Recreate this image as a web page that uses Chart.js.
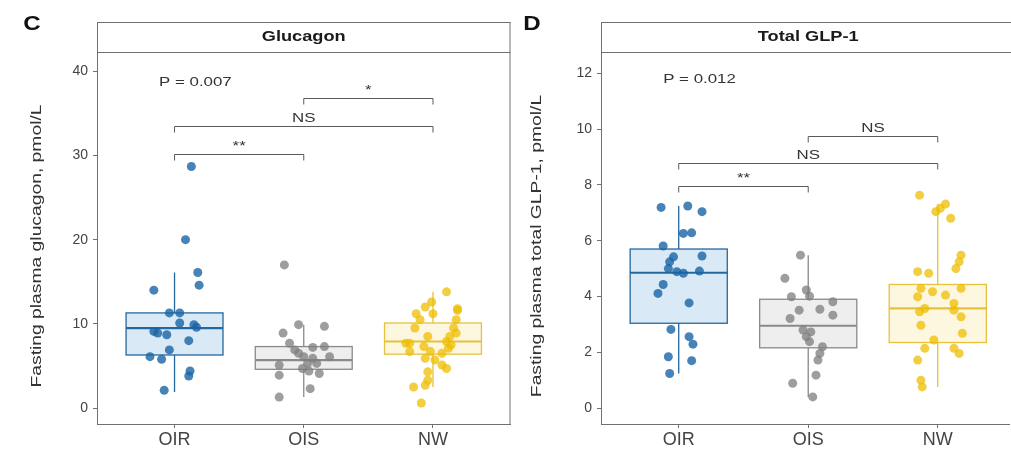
<!DOCTYPE html>
<html>
<head>
<meta charset="utf-8">
<script src="https://cdn.jsdelivr.net/npm/chart.js@4/dist/chart.umd.min.js"></script>
<style>
  html, body { margin: 0; padding: 0; background: #fff; overflow: hidden; }
  #wrap { position: relative; width: 1011px; height: 450px; overflow: hidden; }
  .panel { position: absolute; top: 0; height: 450px; }
  #p1 { left: 0; width: 515px; }
  #p2 { left: 512px; width: 502px; }
</style>
</head>
<body>
<div id="wrap">
  <div class="panel" id="p1"><canvas id="glucagonChart"></canvas></div>
  <div class="panel" id="p2"><canvas id="glp1Chart"></canvas></div>
</div>
<script>
const groups = ['OIR', 'OIS', 'NW'];

// panel C - glucagon, pmol/L (jitter = horizontal offset)
const glucagonOIR = [28.7, 20.0, 16.1, 14.6, 14.0, 11.3, 11.3, 10.1, 9.9, 9.6, 9.1, 8.9, 8.7, 8.0, 6.9, 6.1, 5.8, 4.4, 3.8, 2.1];
const glucagonOIRJitter = [0.13, 0.085, 0.18, 0.19, -0.16, -0.04, 0.04, 0.04, 0.15, 0.17, -0.16, -0.13, -0.06, 0.11, -0.04, -0.19, -0.10, 0.12, 0.11, -0.08];
const glucagonOIS = [17.0, 9.9, 9.7, 8.9, 7.7, 7.2, 7.3, 6.9, 6.5, 6.1, 6.1, 5.9, 5.3, 5.1, 5.3, 4.7, 4.4, 4.1, 3.9, 2.3, 1.3];
const glucagonOISJitter = [-0.15, -0.04, 0.16, -0.16, -0.11, 0.07, 0.16, -0.07, -0.04, 0.0, 0.2, 0.07, 0.1, -0.19, 0.03, -0.01, 0.04, 0.12, -0.19, 0.05, -0.19];
const glucagonNW = [13.8, 12.6, 12.0, 11.8, 11.6, 11.2, 11.2, 10.5, 10.5, 9.5, 9.5, 8.9, 8.5, 8.5, 7.9, 7.7, 7.7, 7.5, 7.3, 7.1, 6.7, 6.7, 6.5, 5.9, 5.7, 5.1, 4.7, 4.3, 3.3, 2.7, 2.5, 0.6];
const glucagonNWJitter = [0.105, -0.01, -0.06, 0.19, 0.19, -0.13, 0.0, -0.1, 0.18, 0.16, -0.14, 0.18, 0.13, -0.04, 0.105, -0.18, -0.21, 0.14, -0.07, 0.12, -0.18, -0.02, 0.07, -0.06, 0.015, 0.07, 0.105, -0.04, -0.04, -0.06, -0.15, -0.09];
// [lower whisker, Q1, median, Q3, upper whisker]
const glucagonBoxes = [[1.9, 6.3, 9.5, 11.3, 16.1], [1.3, 4.6, 5.7, 7.3, 9.9], [2.5, 6.4, 7.9, 10.1, 13.8]];
const glucagonBrackets = [[1, 2, 30.2, '**'], [1, 3, 33.5, 'NS'], [2, 3, 36.8, '*']];
const glucagonTicks = [0, 10, 20, 30, 40];
const glucagonP = 'P = 0.007';

// panel D - total GLP-1, pmol/L
const glp1OIR = [7.19, 7.24, 7.04, 6.26, 6.28, 5.81, 5.42, 5.45, 5.24, 5.0, 4.89, 4.83, 4.91, 4.43, 4.11, 3.77, 2.82, 2.56, 2.29, 1.84, 1.70, 1.24];
const glp1OIRJitter = [-0.136, 0.07, 0.18, 0.036, 0.1, -0.12, -0.04, 0.18, -0.07, -0.08, -0.015, 0.036, 0.16, -0.12, -0.16, 0.08, -0.06, 0.08, 0.11, -0.08, 0.1, -0.07];
const glp1OIS = [5.48, 4.65, 4.23, 3.99, 4.01, 3.81, 3.51, 3.54, 3.33, 3.21, 2.80, 2.73, 2.56, 2.38, 2.20, 1.96, 1.72, 1.18, 0.89, 0.40];
const glp1OISJitter = [-0.06, -0.18, -0.015, -0.13, 0.01, 0.19, -0.07, 0.09, 0.19, -0.14, -0.04, 0.02, -0.015, 0.01, 0.11, 0.09, 0.075, 0.06, -0.12, 0.035];
const glp1NW = [7.63, 7.31, 7.16, 7.04, 6.8, 5.48, 5.24, 5.0, 4.89, 4.83, 4.29, 4.29, 4.17, 4.05, 3.99, 3.75, 3.57, 3.45, 3.51, 3.27, 2.97, 2.68, 2.44, 2.14, 2.14, 1.96, 1.72, 1.0, 0.76];
const glp1NWJitter = [-0.14, 0.06, 0.02, -0.015, 0.1, 0.18, 0.165, 0.14, -0.155, -0.07, 0.18, -0.13, -0.04, 0.06, -0.155, 0.125, -0.1, -0.14, 0.125, 0.18, -0.13, 0.19, -0.03, -0.1, 0.125, 0.165, -0.155, -0.13, -0.12];
const glp1Boxes = [[1.24, 3.04, 4.85, 5.7, 7.24], [0.4, 2.16, 2.95, 3.9, 5.48], [0.76, 2.35, 3.57, 4.43, 7.31]];
const glp1Brackets = [[1, 2, 7.96, '**'], [1, 3, 8.79, 'NS'], [2, 3, 9.75, 'NS']];
const glp1Ticks = [0, 2, 4, 6, 8, 10, 12];
const glp1P = 'P = 0.012';

const pointColors = ['rgba(25, 100, 165, 0.8)', 'rgba(125, 125, 125, 0.75)', 'rgba(238, 190, 0, 0.75)'];
const boxLines = ['#23679f', '#8a8a8a', '#e6c23c'];
const boxFills = ['rgba(0, 115, 194, 0.15)', 'rgba(134, 134, 134, 0.14)', 'rgba(239, 192, 0, 0.12)'];
const frameColor = '#707070';
const fontFamily = '"Liberation Sans", Arial, sans-serif';

function drawText(ctx, text, x, y, size, o = {}) {
    ctx.save();
    ctx.translate(x, y);
    if (o.rotate) ctx.rotate(-Math.PI / 2);
    ctx.scale(o.stretch || 1, 1);
    ctx.font = (o.bold ? 'bold ' : '') + size + 'px ' + fontFamily;
    ctx.fillStyle = o.color || '#333';
    ctx.textAlign = o.align || 'center';
    ctx.textBaseline = o.baseline || 'middle';
    ctx.fillText(text, 0, 0);
    ctx.restore();
}

const panelPlugin = {
    id: 'panel',
    beforeDatasetsDraw(chart, args, opts) {
        const {ctx, scales: {x, y}} = chart;
        opts.boxes.forEach((b, i) => {
            const l = x.getPixelForValue(i + 1 - 0.375);
            const r = x.getPixelForValue(i + 1 + 0.375);
            const c = x.getPixelForValue(i + 1);
            const [lo, q1, med, q3, hi] = b.map(v => y.getPixelForValue(v));
            ctx.save();
            ctx.strokeStyle = boxLines[i];
            ctx.lineWidth = 1.3;
            ctx.beginPath();
            ctx.moveTo(c, q3); ctx.lineTo(c, hi);
            ctx.moveTo(c, q1); ctx.lineTo(c, lo);
            ctx.stroke();
            ctx.fillStyle = boxFills[i];
            ctx.fillRect(l, q3, r - l, q1 - q3);
            ctx.strokeRect(l, q3, r - l, q1 - q3);
            ctx.lineWidth = 2.2;
            ctx.beginPath();
            ctx.moveTo(l, med); ctx.lineTo(r, med);
            ctx.stroke();
            ctx.restore();
        });
    },
    afterDraw(chart, args, opts) {
        const {ctx, chartArea: a, scales: {x, y}} = chart;
        ctx.save();
        ctx.strokeStyle = frameColor;
        ctx.lineWidth = 1;
        // right frame and strip
        const stripRight = opts.rightFrame ? a.right : chart.width + 2;
        ctx.beginPath();
        if (opts.rightFrame) { ctx.moveTo(a.right - 0.5, a.top - 30); ctx.lineTo(a.right - 0.5, a.bottom); }
        ctx.moveTo(a.left + 0.5, a.top - 30); ctx.lineTo(a.left + 0.5, a.top);
        ctx.moveTo(a.left, a.top - 29.5); ctx.lineTo(stripRight, a.top - 29.5);
        ctx.moveTo(a.left, a.top + 0.5); ctx.lineTo(stripRight, a.top + 0.5);
        ctx.stroke();
        drawText(ctx, opts.strip, x.getPixelForValue(2), a.top - 15, 14, {bold: true, stretch: 1.3, color: '#1a1a1a'});

        drawText(ctx, opts.letter, opts.letterX, 24, 21, {bold: true, stretch: 1.15, color: '#111'});
        drawText(ctx, opts.yTitle, opts.titleX, 246, 14.5, {rotate: true, stretch: 1.33, color: '#333'});

        // significance brackets
        ctx.strokeStyle = '#5a5a5a';
        opts.brackets.forEach(([g1, g2, v, label]) => {
            const x1 = x.getPixelForValue(g1), x2 = x.getPixelForValue(g2), yy = Math.round(y.getPixelForValue(v)) + 0.5;
            ctx.beginPath();
            ctx.moveTo(x1, yy + 6); ctx.lineTo(x1, yy); ctx.lineTo(x2, yy); ctx.lineTo(x2, yy + 6);
            ctx.stroke();
            drawText(ctx, label, (x1 + x2) / 2, yy - 2, 13, {baseline: 'bottom', stretch: 1.3, color: '#333'});
        });
        drawText(ctx, opts.pText, x.getPixelForValue(0.88), y.getPixelForValue(opts.pY), 12.5, {align: 'left', stretch: 1.35, color: '#333'});
        ctx.restore();
    }
};

function makeDatasets(values, jitters) {
    return values.map((vals, g) => ({
        type: 'scatter',
        data: vals.map((v, i) => ({x: g + 1 + jitters[g][i], y: v})),
        backgroundColor: pointColors[g],
        borderWidth: 0,
        pointRadius: 4.5
    }));
}

function makeOptions(cfg) {
    return {
        responsive: true,
        maintainAspectRatio: false,
        animation: false,
        layout: {padding: {top: 52, right: cfg.rightPad, left: 0, bottom: 0}},
        plugins: {
            legend: {display: false},
            tooltip: {enabled: false},
            panel: cfg.panel
        },
        scales: {
            x: {
                type: 'linear',
                min: 0.4,
                max: cfg.xMax,
                afterBuildTicks: (s) => { s.ticks = groups.map((g, i) => ({value: i + 1})); },
                afterFit: (s) => { s.height = 26; },
                grid: {drawOnChartArea: false, color: frameColor, tickLength: 4},
                border: {color: frameColor, width: 1},
                ticks: {
                    color: '#444',
                    padding: 1,
                    font: {family: fontFamily, size: 18},
                    callback: (v) => groups[v - 1]
                }
            },
            y: {
                min: cfg.yMin,
                max: cfg.yMax,
                afterBuildTicks: (s) => { s.ticks = cfg.yTicks.map(v => ({value: v})); },
                afterFit: (s) => { s.width = cfg.yWidth; },
                grid: {drawOnChartArea: false, color: frameColor, tickLength: 4},
                border: {color: frameColor, width: 1},
                ticks: {
                    color: '#444',
                    padding: 5,
                    font: {family: fontFamily, size: 14}
                }
            }
        }
    };
}

new Chart(document.getElementById('glucagonChart'), {
    type: 'scatter',
    data: {datasets: makeDatasets([glucagonOIR, glucagonOIS, glucagonNW], [glucagonOIRJitter, glucagonOISJitter, glucagonNWJitter])},
    options: makeOptions({
        rightPad: 1, xMax: 3.6, yMin: -1.9, yMax: 42.3, yTicks: glucagonTicks, yWidth: 97,
        panel: {
            boxes: glucagonBoxes, brackets: glucagonBrackets, strip: 'Glucagon', letter: 'C', letterX: 32,
            yTitle: 'Fasting plasma glucagon, pmol/L', titleX: 37, pText: glucagonP, pY: 38.7, rightFrame: true
        }
    }),
    plugins: [panelPlugin]
});

new Chart(document.getElementById('glp1Chart'), {
    type: 'scatter',
    data: {datasets: makeDatasets([glp1OIR, glp1OIS, glp1NW], [glp1OIRJitter, glp1OISJitter, glp1NWJitter])},
    options: makeOptions({
        rightPad: 0, xMax: 3.554, yMin: -0.57, yMax: 12.76, yTicks: glp1Ticks, yWidth: 89,
        panel: {
            boxes: glp1Boxes, brackets: glp1Brackets, strip: 'Total GLP-1', letter: 'D', letterX: 20,
            yTitle: 'Fasting plasma total GLP-1, pmol/L', titleX: 25, pText: glp1P, pY: 11.76, rightFrame: false
        }
    }),
    plugins: [panelPlugin]
});
</script>
</body>
</html>
